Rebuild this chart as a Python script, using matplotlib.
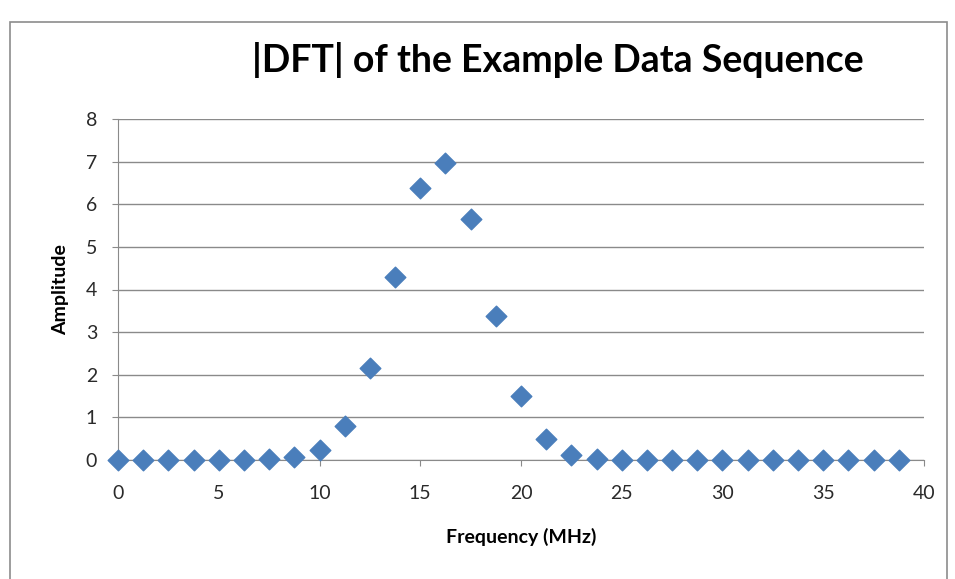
import numpy as np
import matplotlib.pyplot as plt
from matplotlib.patches import Rectangle

# datos
freq = [0, 1.25, 2.5, 3.75, 5, 6.25, 7.5, 8.75, 10, 11.25, 12.5, 13.75, 15, 16.25,
        17.5, 18.75, 20, 21.25, 22.5, 23.75, 25, 26.25, 27.5, 28.75, 30, 31.25,
        32.5, 33.75, 35, 36.25, 37.5, 38.75]
amplitude = [0, 0, 0, 0, 0, 0.01, 0.03, 0.06, 0.23, 0.8, 2.15, 4.3, 6.37, 6.97,
             5.65, 3.38, 1.5, 0.5, 0.12, 0.03, 0.01, 0.01, 0, 0, 0, 0,
             0, 0, 0, 0, 0, 0]

plt.rcParams['font.family'] = ['Lato', 'DejaVu Sans']

fig = plt.figure(figsize=(9.55, 5.79), dpi=100)
ax = fig.add_axes([0.1236, 0.2055, 0.8439, 0.589])

# marco exterior del grafico
fig.patches.append(Rectangle((10 / 955, -0.05), 937 / 955, 1 - 22 / 579 + 0.05,
                             transform=fig.transFigure, fill=False,
                             edgecolor='#8c8c8c', linewidth=1.2))

ax.scatter(freq, amplitude, marker='D', s=110, color='#4A7EBB', zorder=3,
           edgecolors='#4A7EBB', clip_on=False)

ax.set_xlim(0, 40)
ax.set_ylim(0, 8)
ax.set_xticks(np.arange(0, 41, 5))
ax.set_yticks(np.arange(0, 9, 1))
ax.yaxis.grid(True, color='#8a8a8a', linewidth=1.0)
ax.set_axisbelow(True)

for side in ['top', 'right']:
    ax.spines[side].set_visible(False)
for side in ['left', 'bottom']:
    ax.spines[side].set_color('#8a8a8a')
ax.tick_params(axis='both', colors='#8a8a8a', labelcolor='#2a2a2a',
               labelsize=14, length=4, direction='out')
ax.tick_params(axis='x', pad=14)
ax.tick_params(axis='y', pad=11)

ax.set_xlabel('Frequency (MHz)', fontsize=14, fontweight='bold', labelpad=19)
ax.set_ylabel('Amplitude', fontsize=14, fontweight='bold', labelpad=12)
fig.suptitle('|DFT| of the Example Data Sequence', fontsize=27, fontweight='bold',
             x=0.584, y=0.897, va='center')

fig.savefig('out.png', dpi=100)
